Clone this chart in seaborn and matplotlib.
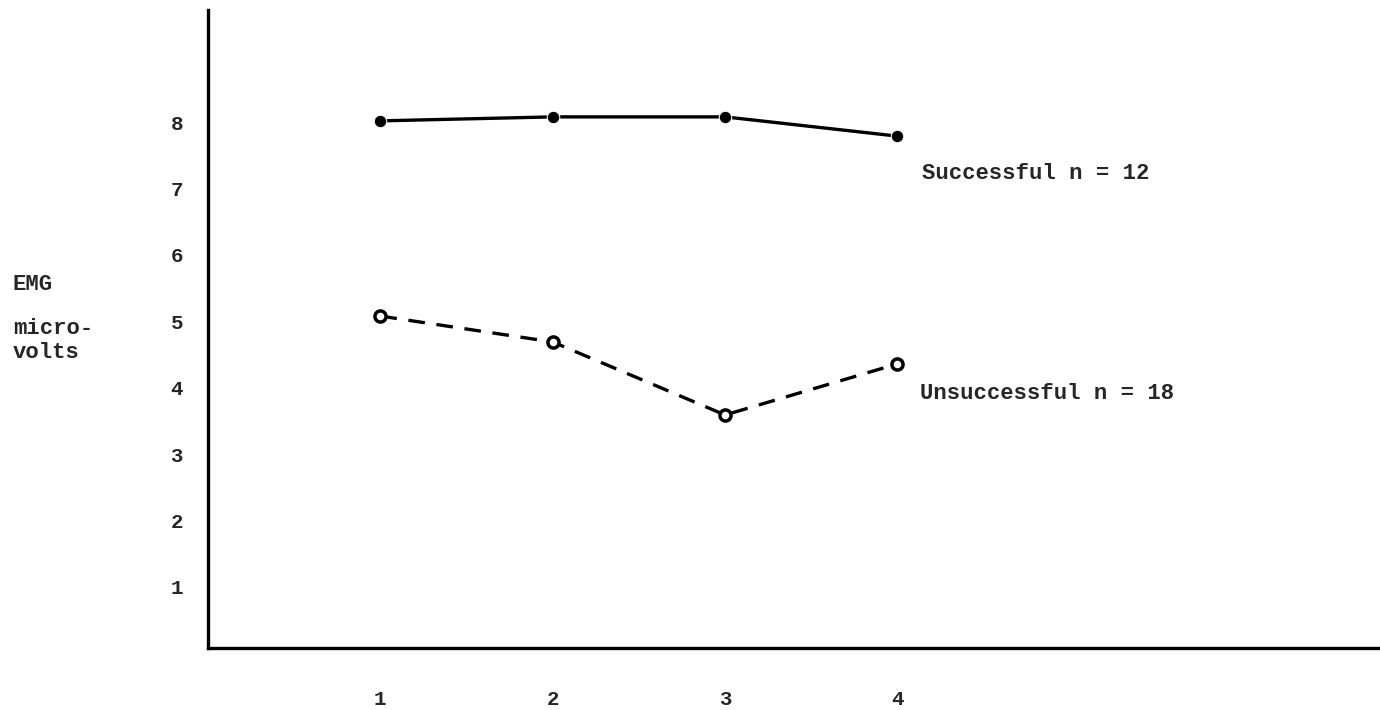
import matplotlib
matplotlib.use("Agg")
import matplotlib.pyplot as plt
import seaborn as sns
import pandas as pd

sessions = [1, 2, 3, 4]
successful = [8.02, 8.08, 8.08, 7.79]
unsuccessful = [5.08, 4.69, 3.59, 4.36]
groups = ["Successful n = 12", "Unsuccessful n = 18"]
y_ticks = [1, 2, 3, 4, 5, 6, 7, 8]
x_ticks = [1, 2, 3, 4]
y_label_lines = ["EMG", "micro-", "volts"]

df = pd.DataFrame({
    "session": sessions * 2,
    "emg": successful + unsuccessful,
    "group": [groups[0]] * 4 + [groups[1]] * 4,
})

sns.set_style("white")
plt.rcParams["font.family"] = ["Liberation Mono", "DejaVu Sans Mono"]

fig = plt.figure(figsize=(13.8, 7.1), dpi=100)
ax = fig.add_axes([208 / 1380, 62 / 710, 1172 / 1380, 638 / 710])

sns.lineplot(data=df, x="session", y="emg", hue="group", style="group",
             palette={groups[0]: "black", groups[1]: "black"},
             dashes={groups[0]: "", groups[1]: (5, 3.5)},
             markers={groups[0]: "o", groups[1]: "o"},
             linewidth=2.4, markersize=9, legend=False, ax=ax)

# open markers for unsuccessful group
lines = ax.get_lines()
if len(lines) >= 2:
    lines[1].set_markerfacecolor("white")
    lines[1].set_markeredgecolor("black")
    lines[1].set_markeredgewidth(2.5)
    lines[1].set_markersize(8)

ax.set_xlim(0, 6.8)
ax.set_ylim(0.08, 9.69)
ax.set_xticks(x_ticks)
ax.set_xticklabels([str(t) for t in x_ticks])
ax.set_yticks(y_ticks)
ax.set_yticklabels([str(t) for t in y_ticks])
ax.tick_params(axis="y", length=0, pad=18, labelsize=15)
ax.tick_params(axis="x", length=0, pad=30, labelsize=15)
for lab in ax.get_xticklabels() + ax.get_yticklabels():
    lab.set_fontweight("bold")
ax.set_xlabel("")
ax.set_ylabel("")

for s in ["top", "right"]:
    ax.spines[s].set_visible(False)
for s in ["left", "bottom"]:
    ax.spines[s].set_linewidth(2.4)
    ax.spines[s].set_color("black")

ax.text(4.14, 7.23, groups[0], fontsize=16, fontweight="bold", va="center", ha="left")
ax.text(4.13, 3.92, groups[1], fontsize=16, fontweight="bold", va="center", ha="left")

for txt, ypix in zip(y_label_lines, [285, 328, 352]):
    fig.text(13 / 1380, 1 - ypix / 710, txt, fontsize=16, fontweight="bold",
             va="center", ha="left")

fig.savefig("out.png", dpi=100, facecolor="white")
